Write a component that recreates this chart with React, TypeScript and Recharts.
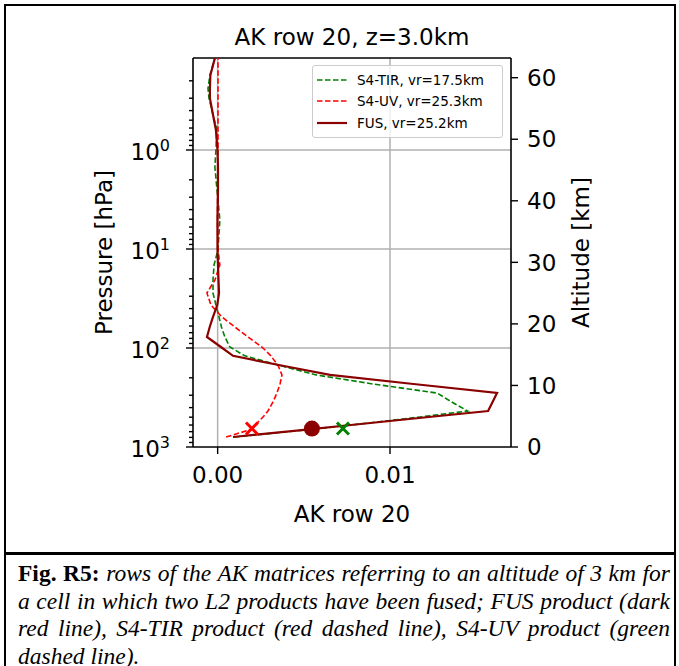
import React from "react";
import {
  ScatterChart,
  Scatter,
  XAxis,
  YAxis,
  ReferenceLine,
  Legend,
  Label,
} from "recharts";

// pressure levels [hPa], from the surface up to the top of the plot
const levels = [
  793, 674, 586, 498, 433, 351, 285, 231, 187, 152, 120, 97.7, 77.4, 61.4,
  48.6, 36.8, 27.8, 20.6, 14.5, 10.2, 5.1, 2.5, 1.49, 1.0, 0.63, 0.44, 0.3,
  0.24, 0.175, 0.118,
];

// AK row 20 for each product, one value per level
const akTir = [
  0.00095, 0.00507, 0.00826, 0.01174, 0.01451, 0.01358, 0.01273, 0.00901,
  0.00571, 0.00373, 0.00158, 0.00071, 0.00042, 0.00022, 0.00008, -0.0001,
  -0.00027, -0.00027, -0.00021, 0.00002, 0.00013, -0.00004, -0.00016, -0.0001,
  -0.00004, -0.00027, -0.0005, -0.00056, -0.00045, -0.00016,
];
const akUv = [
  0.00049, 0.00182, 0.00224, 0.00263, 0.00292, 0.00321, 0.00344, 0.00362,
  0.00373, 0.00352, 0.00309, 0.00257, 0.00176, 0.001, 0.00025, -0.00039,
  -0.00062, -0.00016, 0.00013, 0.00002, -0.00001, 0.0, 0.0, 0.00002, 0.00002,
  0.00002, 0.00002, 0.00002, 0.00002, 0.00002,
];
const akFus = [
  0.00089, 0.00487, 0.00829, 0.01226, 0.01569, 0.01595, 0.01621, 0.01136,
  0.00652, 0.00385, 0.00089, 0.00019, -0.00062, -0.00046, -0.00027, -0.00002,
  0.00008, 0.00005, 0.00002, -0.00001, -0.00001, 0.00002, 0.00002, -0.00001,
  -0.0001, -0.00027, -0.00045, -0.00045, -0.00042, -0.00016,
];

const seriesNames = ["S4-TIR, vr=17.5km", "S4-UV, vr=25.3km", "FUS, vr=25.2km"];

// markers at z = 3 km
const markerAlt = 3.0;
const markerUv = 0.00199;
const markerFus = 0.00547;
const markerTir = 0.00727;

const xTicks = [0, 0.01];
const pMajor = [1, 10, 100, 1000];
const pMinor = [
  0.2, 0.3, 0.4, 0.5, 0.6, 0.7, 0.8, 0.9, 2, 3, 4, 5, 6, 7, 8, 9, 20, 30, 40,
  50, 60, 70, 80, 90, 200, 300, 400, 500, 600, 700, 800, 900,
];
const altTicks = [0, 10, 20, 30, 40, 50, 60];

const X_DOMAIN = [-0.00143, 0.01702];
const P_DOMAIN = [0.1177, 1000];
const ALT_DOMAIN = [0, 63.2];

const FONT = "'DejaVu Sans', sans-serif";
const styles = [
  { color: "#008000", width: 1.6, dash: "5.5 2.5" },
  { color: "#ff0000", width: 1.6, dash: "5.5 2.5" },
  { color: "#8b0000", width: 2.2, dash: undefined as string | undefined },
];

const toPoints = (ak: number[]) => levels.map((p, i) => ({ ak: ak[i], p }));

function PressureTick(props: any) {
  const { x, y, payload } = props;
  const v = payload.value;
  const major = pMajor.includes(v);
  const exp = Math.round(Math.log10(v));
  return (
    <g>
      <line x1={x - (major ? 7 : 4)} x2={x} y1={y} y2={y} stroke="#000" strokeWidth={1.4} />
      {major && (
        <text x={x - 23} y={y + 10} textAnchor="end" fontSize={23} fill="#000">
          10
          <tspan dy={-9} fontSize={16}>
            {exp}
          </tspan>
        </text>
      )}
    </g>
  );
}

const cross = (color: string) => (props: any) => {
  const { cx, cy } = props;
  const s = 6;
  return (
    <g stroke={color} strokeWidth={3}>
      <line x1={cx - s} y1={cy - s} x2={cx + s} y2={cy + s} />
      <line x1={cx - s} y1={cy + s} x2={cx + s} y2={cy - s} />
    </g>
  );
};

const noDot = () => <g />;

const renderLegend = () => (
  <div
    style={{
      border: "1px solid #cccccc",
      borderRadius: 3,
      background: "rgba(255,255,255,0.8)",
      padding: "3px 4px",
      width: 191,
      boxSizing: "border-box",
      fontSize: 13.5,
      fontFamily: FONT,
      color: "#000",
    }}
  >
    {seriesNames.map((name, i) => (
      <div key={name} style={{ display: "flex", alignItems: "center", height: 21.5 }}>
        <svg width={30} height={8}>
          <line
            x1={0}
            x2={30}
            y1={4}
            y2={4}
            stroke={styles[i].color}
            strokeWidth={styles[i].width}
            strokeDasharray={styles[i].dash}
          />
        </svg>
        <span style={{ marginLeft: 10, whiteSpace: "nowrap" }}>{name}</span>
      </div>
    ))}
  </div>
);

export default function App() {
  const tir = toPoints(akTir);
  const uv = toPoints(akUv);
  const fus = toPoints(akFus);

  return (
    <div
      style={{
        position: "absolute",
        left: 0,
        top: 0,
        width: 679,
        height: 666,
        background: "#fff",
        overflow: "hidden",
        fontFamily: FONT,
      }}
    >
      {/* figure frame */}
      <div
        style={{
          position: "absolute",
          left: 4,
          top: 4,
          width: 668,
          height: 700,
          border: "2px solid #000",
        }}
      />
      <div style={{ position: "absolute", left: 4, top: 552, width: 672, height: 3, background: "#000" }} />

      <div
        style={{
          position: "absolute",
          left: 0,
          top: 23,
          width: 704,
          textAlign: "center",
          fontSize: 23,
          lineHeight: "28px",
          color: "#000",
        }}
      >
        AK row 20, z=3.0km
      </div>

      <div style={{ position: "absolute", left: 0, top: 0 }}>
        <ScatterChart
          width={679}
          height={552}
          margin={{ top: 58, right: 68, left: 93, bottom: 45 }}
        >
          <XAxis
            type="number"
            dataKey="ak"
            domain={X_DOMAIN}
            allowDataOverflow
            ticks={xTicks}
            tickFormatter={(v: number) => v.toFixed(2)}
            height={60}
            tickSize={7}
            tickMargin={13}
            tick={{ fill: "#000", fontSize: 23 }}
            axisLine={{ stroke: "#000", strokeWidth: 1.6 }}
            tickLine={{ stroke: "#000", strokeWidth: 1.4 }}
          >
            <Label
              content={(p: any) => {
                const vb = p.viewBox;
                return (
                  <text x={vb.x + vb.width / 2} y={vb.y + 75} textAnchor="middle" fontSize={23} fill="#000">
                    AK row 20
                  </text>
                );
              }}
            />
          </XAxis>
          <YAxis
            yAxisId="p"
            type="number"
            dataKey="p"
            scale="log"
            domain={P_DOMAIN}
            allowDataOverflow
            reversed
            ticks={[...pMinor, ...pMajor]}
            interval={0}
            width={100}
            tickSize={0}
            tickMargin={0}
            tickLine={false}
            tick={(p: any) => <PressureTick {...p} />}
            axisLine={{ stroke: "#000", strokeWidth: 1.6 }}
          >
            <Label
              content={(p: any) => {
                const vb = p.viewBox;
                const cx = vb.x + vb.width - 81;
                const cy = vb.y + vb.height / 2;
                return (
                  <text x={cx} y={cy} transform={`rotate(-90 ${cx} ${cy})`} textAnchor="middle" fontSize={23} fill="#000">
                    Pressure [hPa]
                  </text>
                );
              }}
            />
          </YAxis>
          <YAxis
            yAxisId="alt"
            orientation="right"
            type="number"
            dataKey="alt"
            domain={ALT_DOMAIN}
            allowDataOverflow
            ticks={altTicks}
            interval={0}
            width={100}
            tickSize={7}
            tickMargin={9}
            tick={{ fill: "#000", fontSize: 23, textAnchor: "start" }}
            axisLine={{ stroke: "#000", strokeWidth: 1.6 }}
            tickLine={{ stroke: "#000", strokeWidth: 1.4 }}
          >
            <Label
              content={(p: any) => {
                const vb = p.viewBox;
                const cx = vb.x + 78;
                const cy = vb.y + vb.height / 2;
                return (
                  <text x={cx} y={cy} transform={`rotate(-90 ${cx} ${cy})`} textAnchor="middle" fontSize={23} fill="#000">
                    Altitude [km]
                  </text>
                );
              }}
            />
          </YAxis>

          {/* grid at major ticks */}
          {xTicks.map((v) => (
            <ReferenceLine key={"gx" + v} x={v} yAxisId="p" stroke="#b0b0b0" strokeWidth={1.5} />
          ))}
          {pMajor.slice(0, 3).map((v) => (
            <ReferenceLine key={"gy" + v} y={v} yAxisId="p" stroke="#b0b0b0" strokeWidth={1.5} />
          ))}
          <ReferenceLine y={P_DOMAIN[0]} yAxisId="p" stroke="#000" strokeWidth={1.6} />

          <Scatter
            name={seriesNames[0]}
            data={tir}
            yAxisId="p"
            fill={styles[0].color}
            line={{ stroke: styles[0].color, strokeWidth: styles[0].width, strokeDasharray: styles[0].dash }}
            shape={noDot}
            isAnimationActive={false}
          />
          <Scatter
            name={seriesNames[1]}
            data={uv}
            yAxisId="p"
            fill={styles[1].color}
            line={{ stroke: styles[1].color, strokeWidth: styles[1].width, strokeDasharray: styles[1].dash }}
            shape={noDot}
            isAnimationActive={false}
          />
          <Scatter
            name={seriesNames[2]}
            data={fus}
            yAxisId="p"
            fill={styles[2].color}
            line={{ stroke: styles[2].color, strokeWidth: styles[2].width }}
            shape={noDot}
            isAnimationActive={false}
          />

          <Scatter
            data={[{ ak: markerUv, alt: markerAlt }]}
            yAxisId="alt"
            fill="#ff0000"
            shape={cross("#ff0000")}
            legendType="none"
            isAnimationActive={false}
          />
          <Scatter
            data={[{ ak: markerFus, alt: markerAlt }]}
            yAxisId="alt"
            fill="#8b0000"
            shape={(p: any) => <circle cx={p.cx} cy={p.cy} r={8} fill="#8b0000" />}
            legendType="none"
            isAnimationActive={false}
          />
          <Scatter
            data={[{ ak: markerTir, alt: markerAlt }]}
            yAxisId="alt"
            fill="#008000"
            shape={cross("#008000")}
            legendType="none"
            isAnimationActive={false}
          />

          <Legend
            layout="horizontal"
            verticalAlign="middle"
            align="center"
            content={renderLegend}
            wrapperStyle={{ position: "absolute", top: 65, left: 312, width: 191, height: 70 }}
          />
        </ScatterChart>
      </div>

      <div
        style={{
          position: "absolute",
          left: 18,
          top: 560,
          width: 652,
          fontFamily: "'Liberation Serif', serif",
          fontSize: 23.5,
          lineHeight: "27.5px",
          textAlign: "justify",
          color: "#000",
        }}
      >
        <b>Fig. R5:</b>{" "}
        <i>
          rows of the AK matrices referring to an altitude of 3 km for a cell in which two L2 products have
          been fused; FUS product (dark red line), S4-TIR product (red dashed line), S4-UV product (green
          dashed line).
        </i>
      </div>
    </div>
  );
}
